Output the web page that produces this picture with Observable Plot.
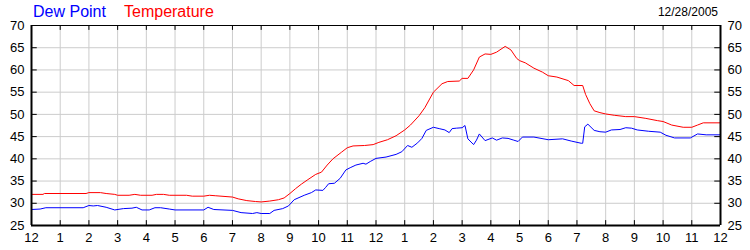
<!DOCTYPE html>
<html>
<head>
<meta charset="utf-8">
<script src="https://cdn.jsdelivr.net/npm/d3@7"></script>
<script src="https://cdn.jsdelivr.net/npm/@observablehq/plot@0.6"></script>
<style>
  body { margin: 0; background: white; }
  #wrap { position: relative; width: 750px; height: 250px; font-family: "Liberation Sans", Arial, sans-serif; }
  .lbl { position: absolute; white-space: nowrap; line-height: 1; }
</style>
</head>
<body>
<div id="wrap">
  <div class="lbl" style="left:33px; top:4px; font-size:16px; color:#0000ff;">Dew Point</div>
  <div class="lbl" style="left:124px; top:4px; font-size:16px; color:#ff0000;">Temperature</div>
  <div class="lbl" style="right:32px; top:6px; font-size:12px; color:#000;">12/28/2005</div>
</div>
<script>
const xTicks = d3.range(0, 25, 1);
const xTickLabels = ["12","1","2","3","4","5","6","7","8","9","10","11","12","1","2","3","4","5","6","7","8","9","10","11","12"];
const yTicks = [25, 30, 35, 40, 45, 50, 55, 60, 65, 70];

const tempHours = [0,0.4,0.45,1.9,2.0,2.4,2.6,2.9,3.0,3.4,3.6,3.8,4.2,4.35,4.6,4.8,5.4,5.6,6.0,6.2,6.4,7.0,7.2,7.5,7.8,8.0,8.3,8.6,8.8,9.0,9.2,9.4,9.6,9.9,10.1,10.3,10.5,10.8,11.0,11.2,11.6,11.9,12.1,12.4,12.7,13.0,13.2,13.5,13.7,14.0,14.3,14.5,14.9,15.0,15.2,15.4,15.6,15.8,16.0,16.2,16.5,16.7,16.9,17.0,17.2,17.5,17.8,18.0,18.3,18.7,18.9,19.2,19.3,19.45,19.6,19.8,20.0,20.3,20.7,21.0,21.4,21.8,22.0,22.3,22.7,23.0,23.2,23.4,24];
const tempValues = [32.0,32.0,32.2,32.2,32.4,32.4,32.2,32.0,31.8,31.8,32.0,31.8,31.8,32.0,32.0,31.8,31.8,31.6,31.6,31.8,31.7,31.4,31.0,30.6,30.4,30.3,30.5,30.8,31.2,32.2,33.3,34.3,35.2,36.5,37.0,38.6,40.0,41.5,42.5,42.9,43.0,43.2,43.7,44.3,45.2,46.5,47.6,49.7,51.5,55.0,56.9,57.4,57.5,58.1,58.1,60.0,62.9,63.6,63.5,64.0,65.3,64.5,62.6,62.1,61.6,60.4,59.5,58.7,58.4,57.6,56.5,56.5,54.5,52.4,50.8,50.4,50.1,49.8,49.5,49.5,49.1,48.6,48.4,47.6,47.1,47.1,47.6,48.1,48.1];

const dewHours = [0,0.3,0.5,1.8,2.0,2.15,2.3,2.6,2.9,3.2,3.5,3.65,3.85,4.1,4.3,4.5,4.8,5.0,6.0,6.15,6.35,7.0,7.3,7.7,7.85,8.0,8.3,8.45,8.75,8.95,9.15,9.5,9.75,9.9,10.15,10.25,10.35,10.55,10.75,10.95,11.1,11.3,11.55,11.65,11.8,12.0,12.35,12.7,12.9,13.1,13.25,13.45,13.6,13.75,14.0,14.2,14.4,14.55,14.65,14.8,15.0,15.1,15.2,15.4,15.5,15.6,15.8,16.05,16.2,16.4,16.6,16.8,16.95,17.1,17.5,18.0,18.5,18.8,19.15,19.2,19.27,19.38,19.6,19.8,20.0,20.2,20.5,20.7,20.9,21.1,21.5,21.9,22.1,22.4,22.95,23.2,23.5,24];
const dewValues = [28.6,28.7,29.0,29.0,29.5,29.4,29.5,29.1,28.5,28.8,28.9,29.1,28.5,28.5,29.0,29.0,28.7,28.5,28.5,29.1,28.6,28.4,27.9,27.7,27.9,27.7,27.7,28.4,28.8,29.4,30.8,31.8,32.4,33.0,32.9,33.6,34.4,34.5,35.6,37.5,38.0,38.6,39.0,38.8,39.4,40.1,40.4,41.0,41.6,43.0,42.6,43.6,44.6,46.4,47.1,46.8,46.5,45.9,46.8,46.9,47.0,47.5,44.5,43.2,44.2,45.6,44.1,44.7,44.2,44.7,44.6,44.2,43.9,44.9,44.9,44.3,44.5,44.0,43.5,43.5,47.2,47.8,46.4,46.1,46.0,46.5,46.6,47.0,46.9,46.5,46.2,46.0,45.3,44.7,44.7,45.6,45.4,45.4];

const temp = tempHours.map((h, i) => ({h, v: tempValues[i]}));
const dew = dewHours.map((h, i) => ({h, v: dewValues[i]}));
const labelOf = new Map(xTicks.map((t, i) => [t, xTickLabels[i]]));

const chart = Plot.plot({
  width: 750,
  height: 250,
  marginLeft: 31,
  marginRight: 30,
  marginTop: 25,
  marginBottom: 25,
  style: {fontFamily: "'Liberation Sans', Arial, sans-serif", fontSize: "13px", background: "transparent", color: "black"},
  x: {domain: [0, 24]},
  y: {domain: [25, 70]},
  marks: [
    Plot.gridX(xTicks, {stroke: "#cccccc", strokeOpacity: 1}),
    Plot.gridY(yTicks, {stroke: "#cccccc", strokeOpacity: 1}),
    Plot.line(dew, {x: "h", y: "v", stroke: "#0000ff", strokeWidth: 1}),
    Plot.line(temp, {x: "h", y: "v", stroke: "#ff0000", strokeWidth: 1}),
    Plot.ruleX(xTicks, {y1: 70, y2: 68.9, stroke: "black"}),
    Plot.ruleX(xTicks, {y1: 25, y2: 26.1, stroke: "black"}),
    Plot.ruleY(yTicks, {x1: 0, x2: 0.2, stroke: "black"}),
    Plot.ruleY(yTicks, {x1: 24, x2: 23.8, stroke: "black"}),
    Plot.ruleY([70], {stroke: "black", strokeWidth: 1}),
    Plot.ruleY([25], {stroke: "black", strokeWidth: 2}),
    Plot.ruleX([0, 24], {stroke: "black", strokeWidth: 2}),
    Plot.axisX(xTicks, {tickSize: 0, tickPadding: 7, tickFormat: d => labelOf.get(d), label: null, fill: "black"}),
    Plot.axisY(yTicks, {anchor: "left", tickSize: 0, tickPadding: 7, label: null, fill: "black"}),
    Plot.axisY(yTicks, {anchor: "right", tickSize: 0, tickPadding: 7, label: null, fill: "black"})
  ]
});
chart.style.position = "absolute";
chart.style.left = "0";
chart.style.top = "0";
document.getElementById("wrap").prepend(chart);
</script>
</body>
</html>
